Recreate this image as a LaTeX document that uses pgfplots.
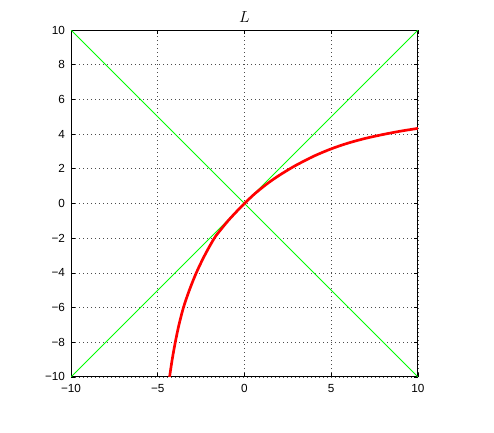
\documentclass[border=0pt]{standalone}
\usepackage{fontspec}
\setmainfont{Liberation Sans}
\usepackage{pgfplots}
\pgfplotsset{compat=1.18}
\definecolor{mgreen}{rgb}{0,1,0}
\definecolor{mred}{rgb}{1,0,0}
\begin{document}
\begin{tikzpicture}
\begin{axis}[
    scale only axis,
    width=260pt, height=260pt,
    xmin=-10, xmax=10, ymin=-10, ymax=10,
    xtick={-10,-5,0,5,10},
    xticklabels={−10,−5,0,5,10},
    ytick={-10,-8,-6,-4,-2,0,2,4,6,8,10},
    yticklabels={−10,−8,−6,−4,−2,0,2,4,6,8,10},
    tick align=inside,
    major tick length=3pt,
    tick style={black, line width=0.5pt},
    axis line style={black, line width=0.7pt},
    grid=major,
    major grid style={black!70, line width=0.5pt, dash pattern=on 0.6pt off 2.4pt},
    ticklabel style={font=\fontsize{8.8}{10}\selectfont},
    xticklabel style={yshift=-2pt},
    yticklabel style={xshift=-1pt},
    title={$L$},
    title style={font=\fontsize{13}{15}\selectfont, yshift=-4pt},
]
\coordinate (bl) at (rel axis cs:0,0);
\coordinate (tr) at (rel axis cs:1,1);
\addplot[mgreen, line width=0.65pt] coordinates {(-10,-10) (10,10)};
\addplot[mgreen, line width=0.65pt] coordinates {(-10,10) (10,-10)};
\addplot[mred, line width=2pt, smooth] coordinates {
    (-4.32,-10) (-4.17,-9) (-3.99,-8) (-3.78,-7) (-3.52,-6)
    (-3.18,-5) (-2.78,-4) (-2.30,-3) (-1.74,-2) (-1.36,-1.5)
    (-0.95,-1) (-0.49,-0.5) (0,0) (0.5,0.48) (1,0.9)
    (1.5,1.28) (2,1.62) (2.5,1.93) (3,2.22) (4,2.73) (5,3.15)
    (6,3.49) (7,3.76) (8,3.98) (9,4.17) (10,4.33)
};
\end{axis}
\path ([xshift=-53.25pt,yshift=-42pt]bl) rectangle ([xshift=57pt,yshift=22.5pt]tr);
\end{tikzpicture}
\end{document}
